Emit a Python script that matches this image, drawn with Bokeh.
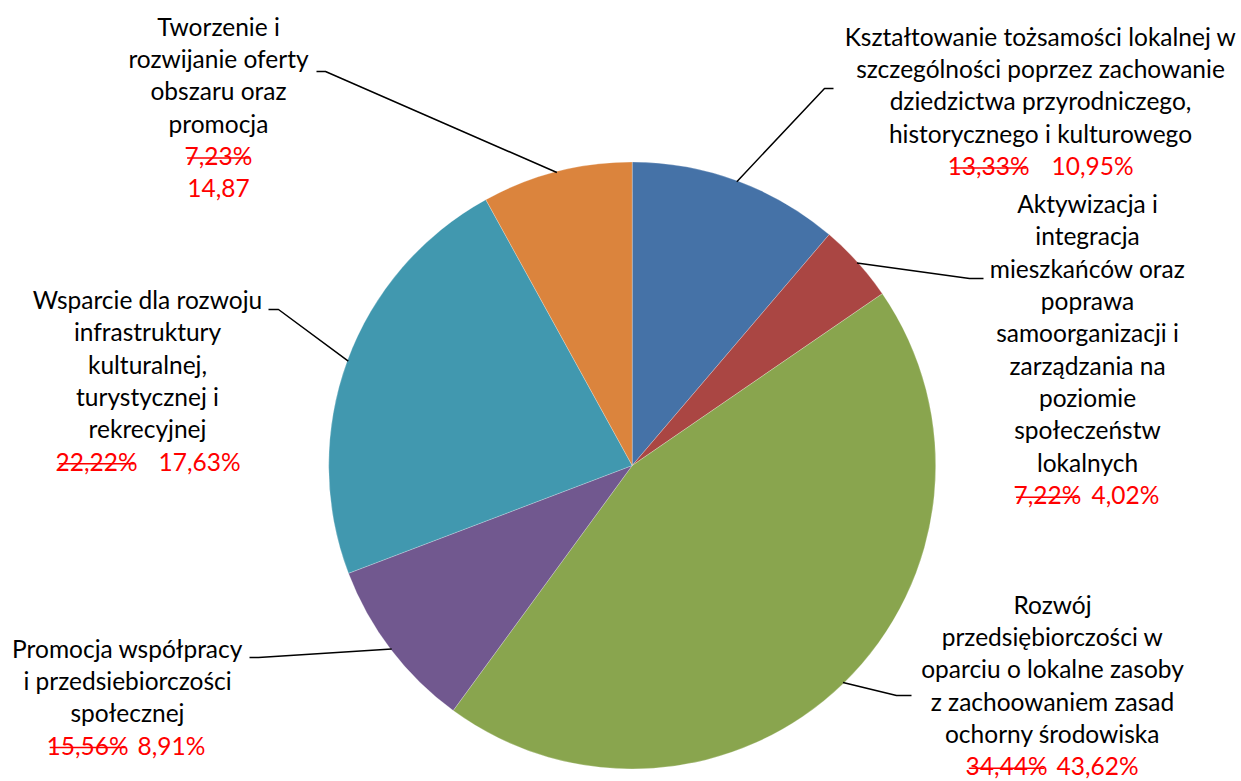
import math
from bokeh.plotting import figure
from bokeh.models import Range1d
from bokeh.core.properties import value
from bokeh.embed import file_html
from bokeh.resources import INLINE

# ---------------- data ----------------
categories = [
    "Kształtowanie tożsamości lokalnej",
    "Aktywizacja i integracja mieszkańców",
    "Rozwój przedsiębiorczości",
    "Promocja współpracy",
    "Wsparcie dla rozwoju infrastruktury",
    "Tworzenie i rozwijanie oferty",
]
pie_values = [11.24, 4.18, 44.62, 9.18, 22.77, 8.01]
colors = ["#4572A7", "#AA4643", "#89A54E", "#71588F", "#4198AF", "#DB843D"]
old_pct = ["13,33%", "7,22%", "34,44%", "15,56%", "22,22%", "7,23%"]
new_pct = ["10,95%", "4,02%", "43,62%", "8,91%", "17,63%", "14,87"]
label_lines = [
    ["Kształtowanie tożsamości lokalnej w", "szczególności poprzez zachowanie",
     "dziedzictwa przyrodniczego,", "historycznego i kulturowego"],
    ["Aktywizacja i", "integracja", "mieszkańców oraz", "poprawa",
     "samoorganizacji i", "zarządzania na", "poziomie", "społeczeństw", "lokalnych"],
    ["Rozwój", "przedsiębiorczości w", "oparciu o lokalne zasoby",
     "z zachoowaniem zasad", "ochorny środowiska"],
    ["Promocja współpracy", "i przedsiebiorczości", "społecznej"],
    ["Wsparcie dla rozwoju", "infrastruktury", "kulturalnej,",
     "turystycznej i", "rekrecyjnej"],
    ["Tworzenie i", "rozwijanie oferty", "obszaru oraz", "promocja"],
]

# ---------------- layout (pixels, y from top) ----------------
W, H = 1241, 781
CX, CY, R = 631.7, 465.0, 303.5
FONT = "Lato"
FS = 24.5
PITCH = 32.35
DY = 9.5          # render offset of the alphabetic baseline
STRIKE = 7.0      # strike-through height above the baseline
blocks = [
    dict(cx=1040, y0=45.0, pct_single=True, old_cx=988, new_cx=1092),
    dict(cx=1087, y0=212.5, pct_single=True, old_cx=1047, new_cx=1125),
    dict(cx=1052, y0=613.0, pct_single=True, old_cx=1006, new_cx=1097),
    dict(cx=127, y0=657.0, pct_single=True, old_cx=87, new_cx=171),
    dict(cx=147, y0=308.5, pct_single=True, old_cx=96, new_cx=199),
    dict(cx=218, y0=35.0, pct_single=False, old_cx=218, new_cx=218),
]
leader_ends = [
    [(824, 88), (833, 88)],
    [(969, 278), (983, 278)],
    [(896, 695), (911, 695)],
    [(258, 657), (249, 657)],
    [(278, 309), (268, 309)],
    [(325, 71), (316, 71)],
]

def fy(y):
    return H - y

p = figure(width=W, height=H, output_backend="svg", toolbar_location=None,
           x_range=Range1d(0, W), y_range=Range1d(0, H), min_border=0,
           background_fill_color="white", border_fill_color="white")
p.axis.visible = False
p.grid.visible = False
p.outline_line_color = None

# pie
total = sum(pie_values)
cum = 0.0
starts, ends, mids = [], [], []
for v in pie_values:
    a0 = cum / total
    cum += v
    a1 = cum / total
    starts.append(math.pi / 2 - 2 * math.pi * a0)
    ends.append(math.pi / 2 - 2 * math.pi * a1)
    mids.append((a0 + a1) / 2)

p.wedge(x=[CX] * len(pie_values), y=[fy(CY)] * len(pie_values), radius=R,
        start_angle=starts, end_angle=ends, direction="clock",
        fill_color=colors, line_color="white", line_width=0.4, line_alpha=0.6)

# leader lines
for i, m in enumerate(mids):
    ang = 2 * math.pi * m
    sx = CX + (R - 1) * math.sin(ang)
    sy = CY - (R - 1) * math.cos(ang)
    xs = [sx] + [pt[0] for pt in leader_ends[i]]
    ys = [fy(sy)] + [fy(pt[1]) for pt in leader_ends[i]]
    p.line(xs, ys, line_color="black", line_width=1.5)

def put_text(x, y, s, color):
    p.text(x=[x], y=[fy(y - DY)], text=[s], text_align="center",
           text_baseline="alphabetic", text_font=value(FONT),
           text_font_size=f"{FS}px", text_color=color)

# labels
for i, b in enumerate(blocks):
    lines = label_lines[i]
    for k, s in enumerate(lines):
        put_text(b["cx"], b["y0"] + k * PITCH, s, "black")
    n = len(lines)
    oy = b["y0"] + n * PITCH
    ny = oy if b["pct_single"] else oy + PITCH
    put_text(b["old_cx"], oy, old_pct[i], "#FF0000")
    put_text(b["new_cx"], ny, new_pct[i], "#FF0000")
    # strike-through of old value
    hw = 0.27 * FS * len(old_pct[i]) * 0.95
    p.segment(x0=[b["old_cx"] - hw], y0=[fy(oy - STRIKE)],
              x1=[b["old_cx"] + hw], y1=[fy(oy - STRIKE)],
              line_color="#FF0000", line_width=1.5)

open("out.html", "w").write(file_html(p, INLINE))
